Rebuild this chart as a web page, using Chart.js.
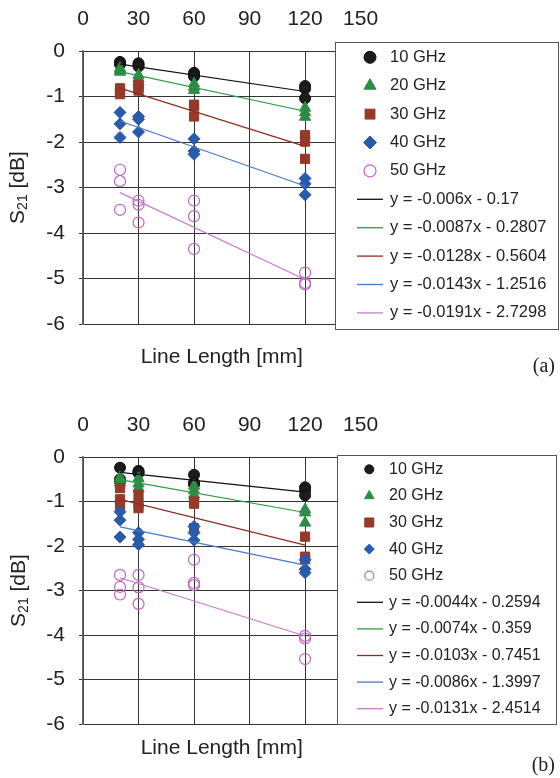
<!DOCTYPE html>
<html>
<head>
<meta charset="utf-8">
<script src="https://cdn.jsdelivr.net/npm/chart.js@4.4.0/dist/chart.umd.min.js"></script>
<style>
html, body { margin: 0; padding: 0; background: #fff; }
canvas { display: block; }
</style>
</head>
<body>
<canvas id="chart-a" width="560" height="389"></canvas>
<canvas id="chart-b" width="560" height="389"></canvas>
<script>
// line lengths [mm] where the samples were measured
const lengths = [20, 30, 60, 120];
const freqs = ['10 GHz', '20 GHz', '30 GHz', '40 GHz', '50 GHz'];
const xMax = 150;
const xStep = 30;
const yMin = -6;
const yMax = 0;

// panel (a): S21 [dB], one group per line length
const a10 = [[-0.24, -0.27, -0.29], [-0.27, -0.31, -0.34], [-0.48, -0.52, -0.56], [-0.77, -0.83, -1.04]];
const a20 = [[-0.38, -0.42, -0.46], [-0.53, -0.6, -0.68], [-0.72, -0.79, -0.86], [-1.25, -1.35, -1.45]];
const a30 = [[-0.82, -0.88, -0.95], [-0.74, -0.8, -0.87], [-1.18, -1.22, -1.44], [-1.85, -1.99, -2.37]];
const a40 = [[-1.35, -1.6, -1.9], [-1.44, -1.5, -1.78], [-1.93, -2.2, -2.27], [-2.8, -2.92, -3.16]];
const a50 = [[-2.61, -2.86, -3.49], [-3.29, -3.38, -3.77], [-3.29, -3.63, -4.35], [-4.87, -5.1, -5.13]];
const slopesA = [-0.006, -0.0087, -0.0128, -0.0143, -0.0191];
const interceptsA = [-0.17, -0.2807, -0.5604, -1.2516, -2.7298];

// panel (b)
const b10 = [[-0.24, -0.5, -0.55], [-0.31, -0.34, -0.36], [-0.4, -0.58, -0.62], [-0.68, -0.75, -0.86]];
const b20 = [[-0.46, -0.52, -0.58], [-0.48, -0.6, -0.7], [-0.65, -0.75, -0.85], [-1.18, -1.25, -1.48]];
const b30 = [[-0.7, -0.95, -1.08], [-0.85, -1.05, -1.15], [-1.0, -1.05, -1.6], [-1.79, -2.24, -2.3]];
const b40 = [[-1.23, -1.42, -1.8], [-1.7, -1.85, -1.97], [-1.56, -1.7, -1.87], [-2.31, -2.52, -2.6]];
const b50 = [[-2.65, -2.92, -3.09], [-2.65, -2.93, -3.3], [-2.31, -2.83, -2.88], [-4.02, -4.08, -4.54]];
const slopesB = [-0.0044, -0.0074, -0.0103, -0.0086, -0.0131];
const interceptsB = [-0.2594, -0.359, -0.7451, -1.3997, -2.4514];
const fitRange = [20, 120];

const markers = [
    { pointStyle: 'circle', radius: 5.5, bg: '#1d1d1d', border: '#111', bw: 1 },
    { pointStyle: 'triangle', radius: 6.5, bg: '#2f8a46', border: '#2f8a46', bw: 1 },
    { pointStyle: 'rect', radius: 6.5, bg: '#953a2b', border: '#953a2b', bw: 1 },
    { pointStyle: 'rectRot', radius: 6, bg: '#2b5ba8', border: '#2b5ba8', bw: 1 },
    { pointStyle: 'circle', radius: 5.5, bg: 'rgba(0,0,0,0)', border: '#c064c0', bw: 1.2 }
];
const fitColors = ['#111111', '#2f9a45', '#8e2c22', '#4a78c8', '#c77ccc'];

Chart.defaults.font.family = '"Liberation Sans", Arial, sans-serif';
Chart.defaults.color = '#222';

function toPoints(groups) {
    const pts = [];
    groups.forEach((g, i) => g.forEach(v => pts.push({ x: lengths[i], y: v })));
    return pts;
}

function buildDatasets(series, slopes, intercepts) {
    const sets = series.map((s, i) => ({
        type: 'scatter',
        label: freqs[i],
        data: toPoints(s),
        pointStyle: markers[i].pointStyle,
        pointRadius: markers[i].radius,
        backgroundColor: markers[i].bg,
        borderColor: markers[i].border,
        borderWidth: markers[i].bw,
        order: 5 - i + 1
    }));
    slopes.forEach((m, i) => {
        const b = intercepts[i];
        sets.push({
            type: 'line',
            label: 'y = ' + m + 'x - ' + Math.abs(b),
            data: fitRange.map(x => ({ x: x, y: m * x + b })),
            borderColor: fitColors[i],
            borderWidth: 1.2,
            pointRadius: 0,
            fill: false,
            order: 0
        });
    });
    return sets;
}

// legend box drawn over the right part of the plot
const boxLegend = {
    id: 'boxLegend',
    afterDraw(chart, args, o) {
        const ctx = chart.ctx;
        ctx.save();
        ctx.fillStyle = '#fff';
        ctx.fillRect(o.left, o.top, o.right - o.left, o.bottom - o.top);
        ctx.strokeStyle = '#555';
        ctx.lineWidth = 1;
        ctx.strokeRect(o.left + 0.5, o.top + 0.5, o.right - o.left, o.bottom - o.top);
        ctx.font = o.fontSize + 'px "Liberation Sans", Arial, sans-serif';
        ctx.textBaseline = 'middle';
        ctx.textAlign = 'left';
        chart.data.datasets.forEach((ds, i) => {
            const y = o.firstRow + i * o.rowStep;
            if (ds.type === 'line') {
                ctx.strokeStyle = ds.borderColor;
                ctx.lineWidth = 1.3;
                ctx.beginPath();
                ctx.moveTo(o.lineX0, y);
                ctx.lineTo(o.lineX1, y);
                ctx.stroke();
            } else {
                ctx.fillStyle = ds.backgroundColor;
                ctx.strokeStyle = ds.borderColor;
                ctx.lineWidth = ds.borderWidth;
                Chart.helpers.drawPoint(ctx, {
                    pointStyle: ds.pointStyle,
                    radius: o.markerRadius[i],
                    rotation: 0,
                    borderWidth: ds.borderWidth
                }, o.markerX, y);
            }
            ctx.fillStyle = '#222';
            ctx.fillText(ds.label, o.textX, y);
        });
        ctx.restore();
    }
};

// axis titles and panel tag
const panelText = {
    id: 'panelText',
    afterDraw(chart, args, o) {
        const ctx = chart.ctx;
        const area = chart.chartArea;
        ctx.save();
        ctx.fillStyle = '#222';
        ctx.textBaseline = 'middle';

        ctx.font = '21px "Liberation Sans", Arial, sans-serif';
        ctx.textAlign = 'center';
        ctx.fillText('Line Length [mm]', (area.left + area.right) / 2, o.xTitleY);

        // S21 [dB], rotated, with subscript
        const big = '21px "Liberation Sans", Arial, sans-serif';
        const small = '14px "Liberation Sans", Arial, sans-serif';
        ctx.font = big;
        const wS = ctx.measureText('S').width;
        const wRest = ctx.measureText(' [dB]').width;
        ctx.font = small;
        const wSub = ctx.measureText('21').width;
        const total = wS + wSub + wRest;
        ctx.translate(o.yTitleX, (area.top + area.bottom) / 2);
        ctx.rotate(-Math.PI / 2);
        ctx.textAlign = 'left';
        let x = -total / 2;
        ctx.font = big;
        ctx.fillText('S', x, 0);
        x += wS;
        ctx.font = small;
        ctx.fillText('21', x, 5);
        x += wSub;
        ctx.font = big;
        ctx.fillText(' [dB]', x, 0);
        ctx.setTransform(1, 0, 0, 1, 0, 0);

        ctx.font = '20px "Liberation Serif", "Times New Roman", serif';
        ctx.textAlign = 'right';
        ctx.fillText(o.tag, 555, o.tagY);
        ctx.restore();
    }
};

function makeChart(id, datasets, top, bottomPad, legendOpts, textOpts) {
    return new Chart(document.getElementById(id).getContext('2d'), {
        type: 'scatter',
        data: { datasets: datasets },
        options: {
            responsive: false,
            animation: false,
            devicePixelRatio: 1,
            layout: { padding: { left: 0, right: 560 - 360.6, top: 0, bottom: bottomPad } },
            plugins: {
                legend: { display: false },
                tooltip: { enabled: false },
                boxLegend: legendOpts,
                panelText: textOpts
            },
            scales: {
                x: {
                    type: 'linear',
                    position: 'top',
                    min: 0,
                    max: xMax,
                    afterFit: s => { s.height = top; },
                    ticks: { stepSize: xStep, padding: 19, font: { size: 21 }, color: '#222' },
                    grid: { color: '#333', lineWidth: 1, drawTicks: false },
                    border: { color: '#333', width: 1 }
                },
                y: {
                    min: yMin,
                    max: yMax,
                    afterFit: s => { s.width = 83; },
                    ticks: { stepSize: 1, padding: 14, font: { size: 21 }, color: '#222' },
                    grid: { color: '#333', lineWidth: 1, tickLength: 4 },
                    border: { color: '#666', width: 1.5 }
                }
            }
        },
        plugins: [boxLegend, panelText]
    });
}

makeChart('chart-a', buildDatasets([a10, a20, a30, a40, a50], slopesA, interceptsA), 51, 65,
    { left: 335, top: 42, right: 558, bottom: 329, firstRow: 57.3, rowStep: 28.4,
      markerX: 370, textX: 390, lineX0: 357, lineX1: 383, fontSize: 16.5,
      markerRadius: [6, 7, 7, 6.5, 6] },
    { xTitleY: 357, yTitleX: 18, tag: '(a)', tagY: 367 });

makeChart('chart-b', buildDatasets([b10, b20, b30, b40, b50], slopesB, interceptsB), 68, 54,
    { left: 337, top: 66, right: 556, bottom: 335, firstRow: 80.3, rowStep: 26.6,
      markerX: 369.3, textX: 389, lineX0: 357, lineX1: 383, fontSize: 16,
      markerRadius: [4.5, 5.5, 6.4, 5, 4.5] },
    { xTitleY: 359, yTitleX: 19, tag: '(b)', tagY: 377 });
</script>
</body>
</html>
